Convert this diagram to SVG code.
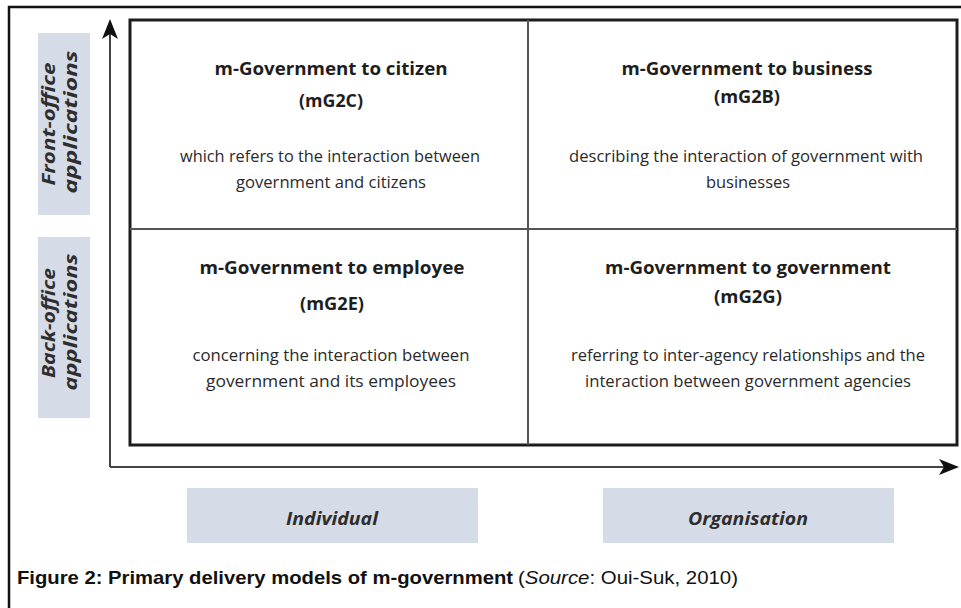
<svg xmlns="http://www.w3.org/2000/svg" width="961" height="608" viewBox="0 0 961 608">
  <style>
    .frame { fill: none; stroke: #111; stroke-width: 2.5; }
    .grid { fill: #fff; stroke: #1c1c1c; stroke-width: 3; }
    .div { stroke: #555; stroke-width: 2; }
    .axis { stroke: #444; stroke-width: 2; fill: none; }
    .band { fill: #d5dce7; }
    .head { font-family: "Open Sans", "Liberation Sans", sans-serif; font-weight: bold; font-size: 18px; fill: #1e1e1e; text-anchor: middle; }
    .desc { font-family: "Open Sans", "Liberation Sans", sans-serif; font-size: 16.5px; fill: #2a2a2a; text-anchor: middle; }
    .lab { font-family: "Open Sans", "Liberation Sans", sans-serif; font-weight: bold; font-style: italic; font-size: 18px; fill: #2e2e2e; text-anchor: middle; }
    .cap { font-family: "Liberation Sans", Arial, sans-serif; font-size: 19px; fill: #111; }
  </style>
  <defs>
    <marker id="arrow" viewBox="0 0 20 16" refX="18" refY="8" markerWidth="20" markerHeight="16" markerUnits="userSpaceOnUse" orient="auto">
      <path d="M0,0 L20,8 L0,16 L5,8 Z" fill="#111"/>
    </marker>
  </defs>

  <rect width="961" height="608" fill="#fff"/>

  <!-- page frame (top and left edges) -->
  <path class="frame" d="M9,608 L9,7 L961,7"/>

  <!-- quadrant grid -->
  <g id="grid">
    <rect class="grid" x="130" y="20" width="827" height="425"/>
    <line class="div" x1="528" y1="20" x2="528" y2="445"/>
    <line class="div" x1="130" y1="229" x2="957" y2="229"/>
  </g>

  <g id="mG2C">
    <text class="head" x="331" y="75" textLength="233" lengthAdjust="spacingAndGlyphs">m-Government to citizen</text>
    <text class="head" x="331" y="107" textLength="64" lengthAdjust="spacingAndGlyphs">(mG2C)</text>
    <text class="desc" x="330" y="162" textLength="300" lengthAdjust="spacingAndGlyphs">which refers to the interaction between</text>
    <text class="desc" x="331" y="188" textLength="190" lengthAdjust="spacingAndGlyphs">government and citizens</text>
  </g>

  <g id="mG2B">
    <text class="head" x="747" y="75" textLength="251" lengthAdjust="spacingAndGlyphs">m-Government to business</text>
    <text class="head" x="747" y="103" textLength="66" lengthAdjust="spacingAndGlyphs">(mG2B)</text>
    <text class="desc" x="746" y="162" textLength="354" lengthAdjust="spacingAndGlyphs">describing the interaction of government with</text>
    <text class="desc" x="748" y="188" textLength="84" lengthAdjust="spacingAndGlyphs">businesses</text>
  </g>

  <g id="mG2E">
    <text class="head" x="332" y="274" textLength="265" lengthAdjust="spacingAndGlyphs">m-Government to employee</text>
    <text class="head" x="332" y="310" textLength="64" lengthAdjust="spacingAndGlyphs">(mG2E)</text>
    <text class="desc" x="331" y="361" textLength="277" lengthAdjust="spacingAndGlyphs">concerning the interaction between</text>
    <text class="desc" x="331" y="387" textLength="250" lengthAdjust="spacingAndGlyphs">government and its employees</text>
  </g>

  <g id="mG2G">
    <text class="head" x="748" y="274" textLength="286" lengthAdjust="spacingAndGlyphs">m-Government to government</text>
    <text class="head" x="748" y="303" textLength="68" lengthAdjust="spacingAndGlyphs">(mG2G)</text>
    <text class="desc" x="748" y="361" textLength="354" lengthAdjust="spacingAndGlyphs">referring to inter-agency relationships and the</text>
    <text class="desc" x="748" y="387" textLength="326" lengthAdjust="spacingAndGlyphs">interaction between government agencies</text>
  </g>

  <!-- axes -->
  <g id="connectors">
    <path class="axis" d="M110,467 L110,21" marker-end="url(#arrow)"/>
    <path class="axis" d="M110,467 L957,467" marker-end="url(#arrow)"/>
  </g>

  <!-- vertical axis labels -->
  <g id="front-office">
    <rect class="band" x="38" y="33" width="52" height="182"/>
    <text class="lab" transform="translate(55,124) rotate(-90)" textLength="123" lengthAdjust="spacingAndGlyphs">Front-office</text>
    <text class="lab" transform="translate(77,122) rotate(-90)" textLength="143" lengthAdjust="spacingAndGlyphs">applications</text>
  </g>
  <g id="back-office">
    <rect class="band" x="38" y="237" width="52" height="181"/>
    <text class="lab" transform="translate(55,323) rotate(-90)" textLength="110" lengthAdjust="spacingAndGlyphs">Back-office</text>
    <text class="lab" transform="translate(77,322) rotate(-90)" textLength="137" lengthAdjust="spacingAndGlyphs">applications</text>
  </g>

  <!-- horizontal axis labels -->
  <g id="individual">
    <rect class="band" x="187" y="488" width="291" height="55"/>
    <text class="lab" x="332" y="525" textLength="92" lengthAdjust="spacingAndGlyphs">Individual</text>
  </g>
  <g id="organisation">
    <rect class="band" x="603" y="488" width="291" height="55"/>
    <text class="lab" x="748" y="525" textLength="120" lengthAdjust="spacingAndGlyphs">Organisation</text>
  </g>

  <!-- caption -->
  <g id="caption">
    <text class="cap" x="17" y="584"><tspan font-weight="bold" textLength="496" lengthAdjust="spacingAndGlyphs">Figure 2: Primary delivery models of m-government</tspan></text>
    <text class="cap" x="518" y="584" textLength="220" lengthAdjust="spacingAndGlyphs">(<tspan font-style="italic">Source</tspan>: Oui-Suk, 2010)</text>
  </g>
</svg>
